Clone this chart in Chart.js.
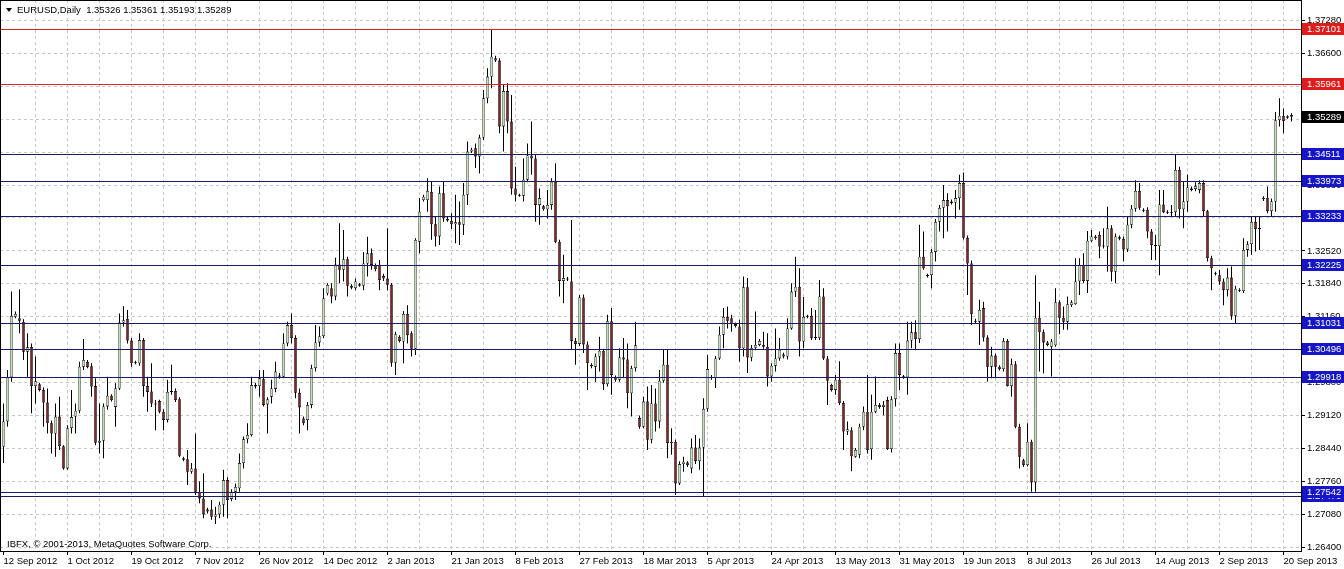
<!DOCTYPE html>
<html>
<head>
<meta charset="utf-8">
<script src="https://cdn.jsdelivr.net/npm/chart.js@4.4.1/dist/chart.umd.min.js"></script>
<style>
  html, body { margin: 0; padding: 0; background: #fff; }
  #wrap { width: 1344px; height: 569px; }
</style>
</head>
<body>
<div id="wrap"><canvas id="chart" width="1344" height="569"></canvas></div>
<script>
const SYMBOL = "EURUSD,Daily"
const COPYRIGHT = "IBFX, \u00a9 2001-2013, MetaQuotes Software Corp."

// one label every 16 bars, starting at bar 0
const XLABELS = ["12 Sep 2012", "1 Oct 2012", "19 Oct 2012", "7 Nov 2012", "26 Nov 2012",
  "14 Dec 2012", "2 Jan 2013", "21 Jan 2013", "8 Feb 2013", "27 Feb 2013", "18 Mar 2013",
  "5 Apr 2013", "24 Apr 2013", "13 May 2013", "31 May 2013", "19 Jun 2013", "8 Jul 2013",
  "26 Jul 2013", "14 Aug 2013", "2 Sep 2013", "20 Sep 2013"]

const YTICKS = [1.264, 1.2708, 1.2776, 1.2844, 1.2912, 1.298, 1.3048, 1.3116, 1.3184,
  1.3252, 1.332, 1.3388, 1.3456, 1.3524, 1.3592, 1.366, 1.3728]

const RED_LEVELS = [1.37101, 1.35961]
const BLUE_LEVELS = [1.34511, 1.33973, 1.33233, 1.32225, 1.31031, 1.30496, 1.29918, 1.2747, 1.27542]

// daily bars (with the short Sunday bars), 12 Sep 2012 .. 23 Sep 2013
const OPEN = [
  1.2848,1.2900,1.2991,1.3116,1.3113,1.3106,1.3044,1.3054,1.2973,1.2977,
  1.2965,1.2939,1.2896,1.2875,1.2910,1.2849,1.2803,1.2886,1.2910,1.2922,
  1.3013,1.3023,1.3014,1.2973,1.2856,1.2860,1.2931,1.2953,1.2930,1.2968,
  1.3104,1.3112,1.3067,1.3020,1.3020,1.3068,1.2973,1.2962,1.2937,1.2942,
  1.2920,1.2903,1.2961,1.2963,1.2946,1.2824,1.2822,1.2796,1.2803,1.2755,
  1.2741,1.2718,1.2718,1.2703,1.2708,1.2728,1.2779,1.2740,1.2755,1.2762,
  1.2814,1.2863,1.2872,1.2975,1.2973,1.2987,1.2935,1.2951,1.2967,1.2995,
  1.2992,1.3061,1.3099,1.3072,1.2959,1.2906,1.2903,1.2934,1.3010,1.3063,
  1.3076,1.3164,1.3175,1.3158,1.3224,1.3213,1.3235,1.3180,1.3175,1.3183,
  1.3180,1.3226,1.3247,1.3223,1.3223,1.3200,1.3195,1.3182,1.3021,1.3075,
  1.3065,1.3122,1.3082,1.3050,1.3271,1.3357,1.3357,1.3374,1.3307,1.3282,
  1.3371,1.3318,1.3314,1.3307,1.3311,1.3306,1.3368,1.3457,1.3464,1.3447,
  1.3486,1.3567,1.3612,1.3650,1.3645,1.3509,1.3582,1.3519,1.3381,1.3368,
  1.3366,1.3399,1.3449,1.3443,1.3347,1.3344,1.3338,1.3347,1.3395,1.3271,
  1.3190,1.3195,1.3189,1.3066,1.3060,1.3156,1.3059,1.3017,1.3013,1.3034,
  1.3046,1.2977,1.3107,1.2992,1.2986,1.3032,1.3028,1.2958,1.3010,1.2907,
  1.2889,1.2941,1.2862,1.2937,1.2900,1.2984,1.3017,1.2855,1.2858,1.2772,
  1.2812,1.2815,1.2803,1.2846,1.2818,1.2846,1.2926,1.2992,1.2989,1.3030,
  1.3079,1.3116,1.3113,1.3101,1.3096,1.3051,1.3177,1.3032,1.3052,1.3058,
  1.3058,1.3054,1.2993,1.3015,1.3030,1.3038,1.3034,1.3092,1.3168,1.3178,
  1.3065,1.3118,1.3118,1.3072,1.3072,1.3158,1.3030,1.2975,1.2965,1.2986,
  1.2938,1.2879,1.2882,1.2827,1.2831,1.2889,1.2920,1.2843,1.2920,1.2934,
  1.2930,1.2944,1.2843,1.2946,1.3041,1.2993,1.2991,1.3067,1.3084,1.3070,
  1.3240,1.3202,1.3202,1.3250,1.3312,1.3341,1.3357,1.3354,1.3352,1.3361,
  1.3392,1.3279,1.3226,1.3108,1.3106,1.3134,1.3073,1.3013,1.3036,1.3013,
  1.3008,1.3066,1.2973,1.3018,1.2889,1.2820,1.2810,1.2858,1.2774,1.3114,
  1.3084,1.3063,1.3054,1.3057,1.3146,1.3114,1.3106,1.3140,1.3142,1.3189,
  1.3222,1.3190,1.3273,1.3282,1.3285,1.3261,1.3261,1.3299,1.3209,1.3280,
  1.3277,1.3255,1.3306,1.3339,1.3376,1.3337,1.3337,1.3292,1.3264,1.3262,
  1.3348,1.3333,1.3332,1.3332,1.3419,1.3338,1.3354,1.3381,1.3380,1.3378,
  1.3392,1.3334,1.3237,1.3206,1.3202,1.3189,1.3171,1.3197,1.3118,1.3172,
  1.3169,1.3254,1.3266,1.3312,1.3297,1.3359,1.3362,1.3334,1.3354,1.3522,
  1.3531,1.3527,1.35326]

const HIGH = [
  1.2937,1.3006,1.3168,1.3127,1.3173,1.3111,1.3082,1.3061,1.3034,1.2980,
  1.2970,1.2968,1.2902,1.2937,1.2951,1.2851,1.2892,1.2965,1.2937,1.3023,
  1.3070,1.3027,1.3020,1.2989,1.2937,1.2937,1.2992,1.2956,1.2979,1.3123,
  1.3138,1.3130,1.3072,1.3025,1.3082,1.3072,1.2992,1.3020,1.2944,1.2945,
  1.2925,1.2986,1.3017,1.2968,1.2950,1.2827,1.2841,1.2814,1.2875,1.2776,
  1.2793,1.2722,1.2738,1.2724,1.2734,1.2800,1.2785,1.2760,1.2772,1.2834,
  1.2869,1.2896,1.2992,1.2980,1.3006,1.3006,1.2950,1.2986,1.3023,1.3000,
  1.3082,1.3106,1.3123,1.3078,1.2968,1.2910,1.2940,1.3017,1.3099,1.3096,
  1.3175,1.3185,1.3185,1.3238,1.3309,1.3295,1.3240,1.3183,1.3195,1.3186,
  1.3250,1.3281,1.3257,1.3226,1.3233,1.3205,1.3299,1.3186,1.3085,1.3078,
  1.3128,1.3140,1.3086,1.3278,1.3361,1.3368,1.3402,1.3395,1.3323,1.3385,
  1.3395,1.3322,1.3330,1.3368,1.3354,1.3392,1.3478,1.3465,1.3474,1.3492,
  1.3584,1.3629,1.3710,1.3655,1.3650,1.3595,1.3598,1.3574,1.3426,1.3370,
  1.3443,1.3474,1.3519,1.3450,1.3381,1.3347,1.3378,1.3402,1.3433,1.3275,
  1.3244,1.3198,1.3316,1.3072,1.3161,1.3162,1.3065,1.3020,1.3040,1.3075,
  1.3050,1.3120,1.3134,1.2995,1.3051,1.3072,1.3061,1.3015,1.3106,1.2912,
  1.2951,1.2972,1.2975,1.2968,1.3006,1.3048,1.3048,1.2886,1.2862,1.2818,
  1.2827,1.2818,1.2865,1.2872,1.2865,1.2948,1.3037,1.2996,1.3035,1.3096,
  1.3134,1.3137,1.3120,1.3104,1.3110,1.3199,1.3196,1.3058,1.3127,1.3070,
  1.3085,1.3082,1.3020,1.3092,1.3072,1.3042,1.3113,1.3185,1.3240,1.3216,
  1.3157,1.3120,1.3134,1.3130,1.3192,1.3175,1.3035,1.2978,1.2996,1.3024,
  1.2942,1.2900,1.2888,1.2845,1.2895,1.2931,1.2996,1.2955,1.2993,1.2938,
  1.2942,1.2951,1.2952,1.3061,1.3061,1.2996,1.3106,1.3106,1.3109,1.3306,
  1.3292,1.3205,1.3256,1.3318,1.3347,1.3388,1.3371,1.3358,1.3378,1.3409,
  1.3414,1.3284,1.3232,1.3112,1.3151,1.3147,1.3078,1.3054,1.3040,1.3016,
  1.3072,1.3070,1.3030,1.3024,1.2895,1.2823,1.2896,1.2862,1.3202,1.3147,
  1.3090,1.3066,1.3070,1.3175,1.3150,1.3137,1.3158,1.3150,1.3237,1.3237,
  1.3247,1.3293,1.3295,1.3285,1.3292,1.3299,1.3343,1.3305,1.3288,1.3284,
  1.3282,1.3323,1.3347,1.3398,1.3392,1.3340,1.3342,1.3297,1.3285,1.3378,
  1.3378,1.3336,1.3347,1.3450,1.3426,1.3395,1.3409,1.3385,1.3394,1.3398,
  1.3398,1.3337,1.3242,1.3209,1.3213,1.3195,1.3216,1.3220,1.3180,1.3175,
  1.3278,1.3272,1.3323,1.3323,1.3323,1.3365,1.3385,1.3360,1.3539,1.3567,
  1.3546,1.3532,1.35361]

const LOW = [
  1.2814,1.2889,1.2982,1.3113,1.3082,1.3027,1.2992,1.2917,1.2937,1.2962,
  1.2889,1.2875,1.2834,1.2827,1.2841,1.2800,1.2800,1.2875,1.2875,1.2917,
  1.3006,1.3010,1.2951,1.2851,1.2834,1.2824,1.2924,1.2941,1.2889,1.2965,
  1.3096,1.3061,1.3013,1.3018,1.3015,1.2951,1.2920,1.2930,1.2882,1.2917,
  1.2882,1.2898,1.2955,1.2940,1.2826,1.2818,1.2769,1.2792,1.2748,1.2731,
  1.2700,1.2710,1.2697,1.2688,1.2700,1.2703,1.2700,1.2735,1.2738,1.2755,
  1.2803,1.2855,1.2869,1.2968,1.2951,1.2931,1.2875,1.2937,1.2960,1.2988,
  1.2989,1.3055,1.3061,1.2948,1.2875,1.2892,1.2882,1.2927,1.3003,1.3054,
  1.3072,1.3160,1.3144,1.3150,1.3185,1.3189,1.3158,1.3173,1.3171,1.3178,
  1.3171,1.3199,1.3213,1.3210,1.3171,1.3190,1.3171,1.3013,1.2996,1.3063,
  1.3020,1.3061,1.3034,1.3037,1.3247,1.3354,1.3333,1.3275,1.3261,1.3264,
  1.3312,1.3312,1.3297,1.3268,1.3264,1.3285,1.3347,1.3454,1.3423,1.3412,
  1.3481,1.3557,1.3588,1.3642,1.3495,1.3457,1.3495,1.3368,1.3354,1.3364,
  1.3354,1.3394,1.3409,1.3312,1.3306,1.3335,1.3319,1.3337,1.3268,1.3158,
  1.3144,1.3190,1.3048,1.3017,1.3055,1.3041,1.2965,1.3010,1.2982,1.3003,
  1.2965,1.2972,1.2955,1.2982,1.2982,1.2989,1.2927,1.2910,1.3003,1.2885,
  1.2886,1.2841,1.2855,1.2879,1.2886,1.2980,1.2824,1.2831,1.2748,1.2769,
  1.2796,1.2806,1.2793,1.2812,1.2800,1.2745,1.2920,1.2986,1.2969,1.3027,
  1.3051,1.3092,1.3085,1.3094,1.3023,1.3034,1.3000,1.3024,1.3047,1.3055,
  1.3050,1.2972,1.2982,1.3003,1.3025,1.3030,1.3028,1.3089,1.3157,1.3034,
  1.3051,1.3113,1.3068,1.3068,1.3068,1.3027,1.2934,1.2962,1.2955,1.2934,
  1.2841,1.2872,1.2797,1.2825,1.2824,1.2882,1.2834,1.2821,1.2917,1.2926,
  1.2913,1.2841,1.2836,1.2931,1.2965,1.2988,1.2955,1.3051,1.3047,1.3062,
  1.3213,1.3197,1.3175,1.3230,1.3292,1.3278,1.3292,1.3348,1.3319,1.3337,
  1.3275,1.3161,1.3099,1.3102,1.3058,1.3065,1.2982,1.2989,1.2989,1.3005,
  1.3003,1.2972,1.2951,1.2886,1.2803,1.2806,1.2807,1.2755,1.2755,1.3003,
  1.2999,1.3055,1.2993,1.3054,1.3080,1.3089,1.3089,1.3136,1.3141,1.3161,
  1.3185,1.3165,1.3270,1.3275,1.3237,1.3257,1.3209,1.3189,1.3185,1.3274,
  1.3230,1.3250,1.3299,1.3333,1.3337,1.3332,1.3278,1.3233,1.3233,1.3202,
  1.3330,1.3328,1.3323,1.3323,1.3319,1.3299,1.3333,1.3375,1.3375,1.3371,
  1.3323,1.3230,1.3171,1.3201,1.3182,1.3140,1.3158,1.3110,1.3103,1.3167,
  1.3165,1.3240,1.3244,1.3251,1.3254,1.3355,1.3330,1.3323,1.3333,1.3509,
  1.3495,1.3525,1.35193]

const CLOSE = [
  1.2900,1.2991,1.3118,1.3122,1.3108,1.3044,1.3053,1.2973,1.2983,1.2965,
  1.2939,1.2896,1.2875,1.2910,1.2849,1.2803,1.2886,1.2909,1.2922,1.3013,
  1.3027,1.3012,1.2972,1.2856,1.2860,1.2931,1.2953,1.2944,1.2968,1.3104,
  1.3109,1.3067,1.3020,1.3022,1.3068,1.2973,1.2961,1.2937,1.2935,1.2920,
  1.2903,1.2961,1.2963,1.2944,1.2829,1.2821,1.2796,1.2803,1.2755,1.2741,
  1.2708,1.2714,1.2703,1.2708,1.2728,1.2779,1.2738,1.2755,1.2765,1.2814,
  1.2863,1.2872,1.2975,1.2972,1.2989,1.2934,1.2946,1.2968,1.3003,1.2992,
  1.3061,1.3099,1.3072,1.2959,1.2929,1.2896,1.2934,1.3010,1.3063,1.3076,
  1.3154,1.3182,1.3158,1.3224,1.3213,1.3235,1.3180,1.3176,1.3189,1.3180,
  1.3226,1.3247,1.3223,1.3214,1.3192,1.3195,1.3182,1.3021,1.3080,1.3066,
  1.3122,1.3078,1.3050,1.3275,1.3333,1.3364,1.3376,1.3307,1.3282,1.3371,
  1.3319,1.3315,1.3307,1.3311,1.3306,1.3368,1.3457,1.3461,1.3447,1.3486,
  1.3567,1.3612,1.3653,1.3645,1.3509,1.3582,1.3519,1.3381,1.3368,1.3366,
  1.3399,1.3449,1.3443,1.3347,1.3361,1.3338,1.3347,1.3395,1.3271,1.3190,
  1.3196,1.3193,1.3066,1.3060,1.3156,1.3059,1.3020,1.3014,1.3034,1.3046,
  1.2977,1.3107,1.2996,1.2986,1.3032,1.3028,1.2958,1.3010,1.3057,1.2889,
  1.2941,1.2862,1.2937,1.2900,1.2984,1.3017,1.2855,1.2858,1.2772,1.2812,
  1.2817,1.2810,1.2846,1.2818,1.2846,1.2926,1.3008,1.2990,1.3030,1.3079,
  1.3116,1.3108,1.3101,1.3097,1.3051,1.3177,1.3032,1.3052,1.3058,1.3066,
  1.3054,1.2993,1.3015,1.3030,1.3048,1.3034,1.3092,1.3168,1.3178,1.3065,
  1.3116,1.3116,1.3072,1.3074,1.3158,1.3030,1.2984,1.2965,1.2986,1.2938,
  1.2879,1.2884,1.2828,1.2841,1.2889,1.2920,1.2841,1.2920,1.2934,1.2930,
  1.2934,1.2843,1.2946,1.3041,1.2996,1.2991,1.3067,1.3084,1.3070,1.3240,
  1.3216,1.3200,1.3250,1.3312,1.3341,1.3357,1.3344,1.3351,1.3361,1.3392,
  1.3279,1.3226,1.3121,1.3106,1.3130,1.3073,1.3013,1.3036,1.3013,1.3008,
  1.3066,1.2973,1.3018,1.2889,1.2827,1.2810,1.2858,1.2774,1.3114,1.3084,
  1.3063,1.3058,1.3065,1.3146,1.3114,1.3106,1.3142,1.3146,1.3189,1.3222,
  1.3190,1.3273,1.3282,1.3278,1.3261,1.3263,1.3299,1.3209,1.3282,1.3277,
  1.3255,1.3306,1.3339,1.3376,1.3341,1.3335,1.3292,1.3264,1.3262,1.3348,
  1.3332,1.3331,1.3330,1.3419,1.3338,1.3354,1.3383,1.3378,1.3386,1.3392,
  1.3334,1.3237,1.3216,1.3204,1.3189,1.3171,1.3197,1.3118,1.3174,1.3170,
  1.3254,1.3266,1.3312,1.3297,1.3299,1.3362,1.3334,1.3354,1.3522,1.3531,
  1.3520,1.3530,1.35289]

const BULL = "#c2e0bc"
const BEAR = "#7a2a2a"
const GRID = "#c8c8c8"
const FONT = "'Liberation Sans', Arial, sans-serif"

const bodies = OPEN.map((o, i) => ({ x: i, y: [o, CLOSE[i]] }))
const wicks = OPEN.map((o, i) => ({ x: i, y: [LOW[i], HIGH[i]] }))
const last = CLOSE.length - 1

function priceTag(ctx, scale, value, color) {
  const y = Math.round(scale.getPixelForValue(value))
  ctx.fillStyle = color
  ctx.fillRect(scale.left + 1, y - 6, scale.width - 1, 12)
  ctx.fillStyle = "#fff"
  ctx.textBaseline = "middle"
  ctx.textAlign = "left"
  ctx.fillText(value.toFixed(5), scale.left + 6, y)
}

function levelLine(ctx, area, scale, value, color) {
  const y = Math.round(scale.getPixelForValue(value))
  ctx.fillStyle = color
  ctx.fillRect(area.left, y, area.right - area.left, 1)
}

const overlay = {
  id: "overlay",
  afterDatasetsDraw(chart) {
    const { ctx, chartArea, scales } = chart
    ctx.save()
    BLUE_LEVELS.forEach((v) => levelLine(ctx, chartArea, scales.y, v, "#1c1c5c"))
    RED_LEVELS.forEach((v) => levelLine(ctx, chartArea, scales.y, v, "#d42828"))
    ctx.restore()
  },
  afterDraw(chart) {
    const { ctx, chartArea, scales } = chart
    ctx.save()
    ctx.font = "9.5px " + FONT
    RED_LEVELS.forEach((v) => priceTag(ctx, scales.y, v, "#e01c1c"))
    BLUE_LEVELS.slice().sort((a, b) => a - b).forEach((v) => priceTag(ctx, scales.y, v, "#1616c8"))
    priceTag(ctx, scales.y, CLOSE[last], "#000")

    // frame, header and copyright
    ctx.fillStyle = "#000"
    ctx.fillRect(chartArea.left, chartArea.top, 1, chartArea.bottom - chartArea.top)
    ctx.fillRect(chartArea.left, chartArea.top, chartArea.right - chartArea.left, 1)

    ctx.beginPath()
    ctx.moveTo(6, 8)
    ctx.lineTo(12, 8)
    ctx.lineTo(9, 12)
    ctx.closePath()
    ctx.fill()
    ctx.textBaseline = "middle"
    ctx.textAlign = "left"
    const head = SYMBOL + "  " + [OPEN[last], HIGH[last], LOW[last], CLOSE[last]].map((v) => v.toFixed(5)).join(" ")
    ctx.fillText(head, 17, 10)
    ctx.fillText(COPYRIGHT, 7, 544)
    ctx.restore()
  },
}

const ctx = document.getElementById("chart").getContext("2d")
new Chart(ctx, {
  type: "bar",
  data: {
    datasets: [
      {
        label: "body",
        data: bodies,
        order: 0,
        grouped: false,
        barThickness: 3,
        borderWidth: 0.6,
        borderColor: "#000",
        borderSkipped: false,
        minBarLength: 1,
        inflateAmount: 0,
        backgroundColor: (c) => (CLOSE[c.dataIndex] >= OPEN[c.dataIndex] ? BULL : BEAR),
      },
      {
        label: "wick",
        data: wicks,
        order: 1,
        grouped: false,
        barThickness: 1,
        borderWidth: 0,
        inflateAmount: 0,
        backgroundColor: "#000",
      },
    ],
  },
  options: {
    responsive: false,
    animation: false,
    devicePixelRatio: 1,
    layout: { padding: 0 },
    plugins: {
      legend: { display: false },
      tooltip: { enabled: false },
    },
    scales: {
      x: {
        type: "linear",
        min: -0.875,
        max: 324.375,
        offset: false,
        grid: {
          offset: false,
          color: (c) => (c.tick && c.tick.value > 0 ? GRID : "rgba(0,0,0,0)"),
          tickColor: (c) => (c.tick && c.tick.value % 16 === 0 ? "#000" : "rgba(0,0,0,0)"),
          tickLength: 4,
        },
        border: { color: "#000", dash: [3, 3] },
        afterBuildTicks: (s) => {
          const t = []
          for (let i = 0; i <= 320; i += 8) t.push({ value: i })
          s.ticks = t
        },
        afterFit: (s) => {
          s.height = 18
          s.paddingLeft = 0
          s.paddingRight = 0
        },
        ticks: {
          autoSkip: false,
          maxRotation: 0,
          minRotation: 0,
          align: "start",
          padding: 1,
          color: "#000",
          font: { family: FONT, size: 9.5 },
          callback: (v) => (v % 16 === 0 ? XLABELS[v / 16] : ""),
        },
      },
      y: {
        type: "linear",
        position: "right",
        min: 1.26325,
        max: 1.377,
        beginAtZero: false,
        grid: { color: GRID, tickColor: "#000", tickLength: 4 },
        border: { color: "#000", dash: [3, 3] },
        afterBuildTicks: (s) => {
          s.ticks = YTICKS.map((v) => ({ value: v }))
        },
        afterFit: (s) => {
          s.width = 43
          s.paddingTop = 0
          s.paddingBottom = 0
        },
        ticks: {
          padding: 2,
          color: "#000",
          font: { family: FONT, size: 9.5 },
          callback: (v) => v.toFixed(5),
        },
      },
    },
  },
  plugins: [overlay],
})
</script>
</body>
</html>
